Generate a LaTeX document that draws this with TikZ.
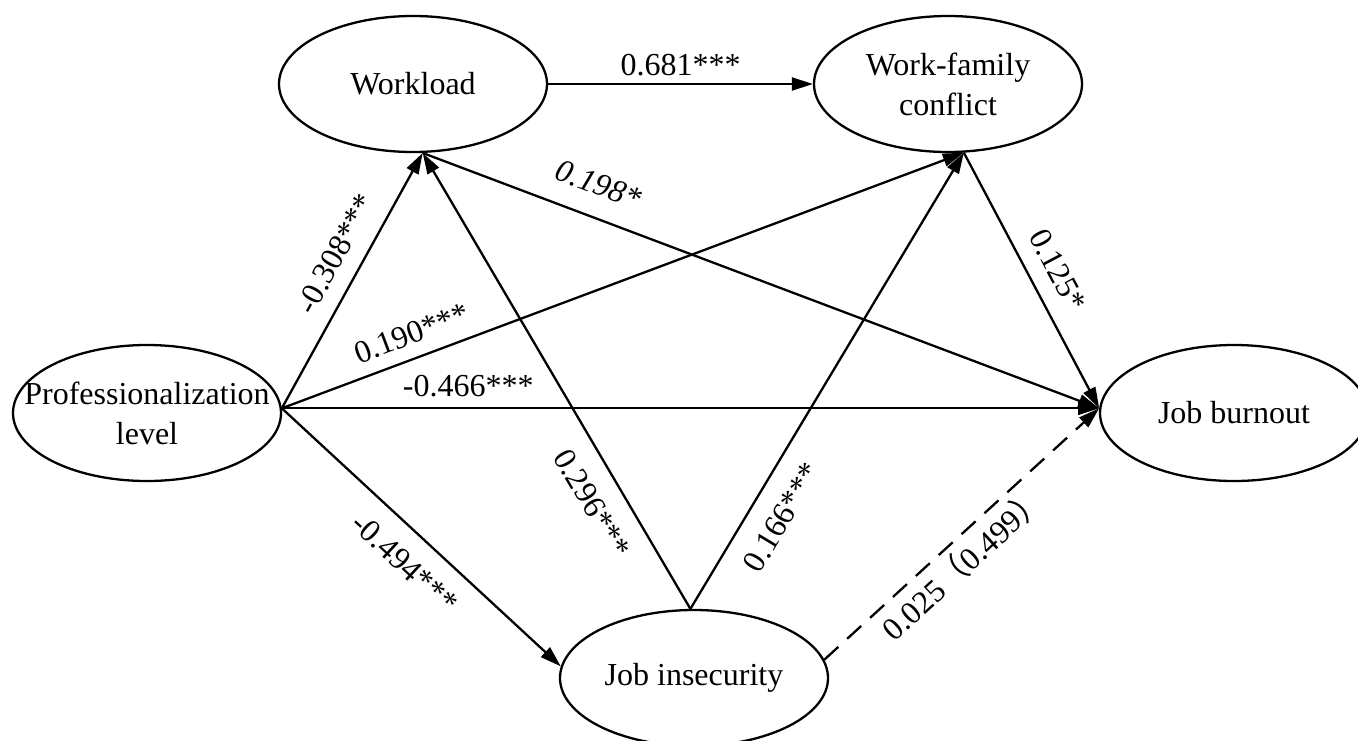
\documentclass[tikz,border=0pt]{standalone}
\usepackage{fontspec}
\setmainfont{Liberation Serif}
\newfontfamily\cjk{Noto Sans CJK SC}
\usetikzlibrary{arrows.meta,shapes.geometric}
\begin{document}
\begin{tikzpicture}[x=0.5pt,y=-0.5pt,
  font=\fontsize{16}{20}\selectfont,
  var/.style={draw,ellipse,line width=1.15pt,minimum width=134pt,minimum height=68pt,inner sep=0pt,align=center},
  conn/.style={line width=1.15pt},
  arr/.style={-{Triangle[length=10.5pt,width=6.5pt]}},
  rarr/.style={{Triangle[length=10.5pt,width=6.5pt]}-},
  dashline/.style={dash pattern=on 9.5pt off 6pt},
  lbl/.style={sloped,inner sep=0pt,text height=10.9pt,text depth=0pt}]
\useasboundingbox (0,0) rectangle (1358,740);

\node[var] (wl)  at (413,84)  {Workload};
\node[var] (wfc) at (948,84)  {Work-family\\conflict};
\node[var] (pl)  at (147,413) {\makebox[0pt]{Professionalization}\\level};
\node[var] (jb)  at (1234,413) {Job burnout};
\node[var] (ji)  at (694,678) {Job insecurity};

\draw[conn,arr] (wl.east) -- node[lbl,above=3.5pt]{0.681***} (wfc.west);
\draw[conn,arr] (pl.2) -- node[lbl,above=8pt,pos=0.553]{-0.308***} (wl.-82.5);
\draw[conn,arr] (pl.2) -- node[lbl,above=6.5pt,pos=0.203]{0.190***} (wfc.-77.6);
\draw[conn,arr] (pl.2) -- node[lbl,above=5.5pt,pos=0.228]{-0.466***} (jb.178);
\draw[conn,arr] (pl.2) -- node[lbl,below=8.9pt,pos=0.515]{-0.494***} (ji.175.2);
\draw[conn,rarr] (wl.-82.5) -- node[lbl,below=9.4pt,pos=0.734]{0.296***} (ji.93.4);
\draw[conn,arr] (ji.93.4) -- node[lbl,below=9.4pt,pos=0.236]{0.166***} (wfc.-77.6);
\draw[conn,arr] (wl.-82.5) -- node[lbl,above=10.5pt,pos=0.243]{\itshape 0.198*} (jb.178);
\draw[conn,arr] (wfc.-77.6) -- node[lbl,above=8.3pt,pos=0.512]{0.125*} (jb.178);
\draw[conn,dashline,arr] (ji.8) -- node[lbl,below=6pt,pos=0.45]{0.025{\cjk （}0.499{\cjk ）}} (jb.178);
\end{tikzpicture}
\end{document}
